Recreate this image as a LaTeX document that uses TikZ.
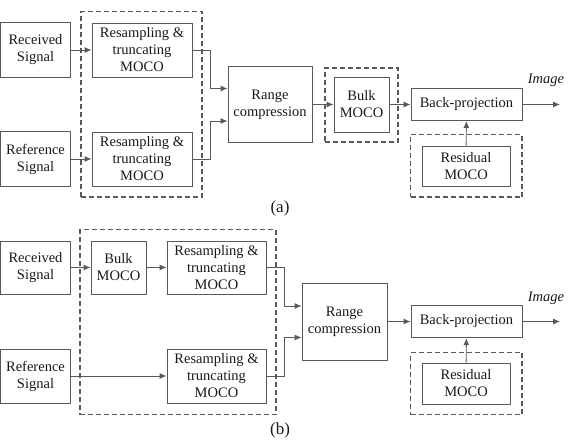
\documentclass[tikz,border=0pt]{standalone}
\usepackage{fontspec}
\setmainfont{Liberation Serif}
\usetikzlibrary{arrows.meta,calc,positioning}
\definecolor{linegray}{gray}{0.35}

\begin{document}
\begin{tikzpicture}[x=1pt,y=-1pt,>={Latex[length=7pt,width=6pt]},
  font=\fontsize{14.5}{17}\selectfont,
  blk/.style={draw=linegray,line width=.9pt,text=black!90,align=center,
    inner sep=0pt},
  grp/.style={draw=linegray,line width=1.4pt,dash pattern=on 5pt off 3pt,
    inner sep=0pt},
  wire/.style={draw=linegray,line width=.9pt,->}]
 \useasboundingbox (0,0) rectangle (568,442);
 % (a)
 \node[grp,minimum width=121,minimum height=185.5] (grpA) at (141.5,104.25) {};
 \node[grp,minimum width=73,minimum height=74] (grpbulkA) at (361.5,105) {};
 \node[grp,minimum width=111.5,minimum height=62.5] (grpresA) at (466.25,165.75) {};
 \node[blk,minimum width=70,minimum height=55] (recA) at (35.5,50) {Received\\Signal};
 \node[blk,minimum width=70,minimum height=55] (refA) at (35.5,159) {Reference\\Signal};
 \node[blk,minimum width=100,minimum height=54] (rs1A) at (142,50)
   {Resampling \&\\truncating\\MOCO};
 \node[blk,minimum width=100,minimum height=54] (rs2A) at (142,159)
   {Resampling \&\\truncating\\MOCO};
 \node[blk,minimum width=84,minimum height=76] (rcA) at (270,104.5)
   {Range\\compression};
 \node[blk,minimum width=55,minimum height=55] (bulkA) at (361.5,104.5)
   {Bulk\\MOCO};
 \node[blk,minimum width=111,minimum height=32] (bpA) at (466.5,104.5)
   {Back-projection};
 \node[blk,minimum width=88,minimum height=40] (resA) at (466,166)
   {Residual\\MOCO};
 \coordinate (outA) at (560,104.5);
 \node[text=black!90,font=\fontsize{14.5}{17}\selectfont\itshape] (imgA) at (546,80) {Image};
 \node[text=black!90,font=\fontsize{17}{20}\selectfont] (capA) at (280,208) {(a)};
 \draw[wire] (recA) -- (rs1A);
 \draw[wire] (refA) -- (rs2A);
 \draw[wire] (rs1A.east) -- ++(18,0) |- ($(rcA.west)+(0,-16)$);
 \draw[wire] (rs2A.east) -- ++(18,0) |- ($(rcA.west)+(0,16.5)$);
 \draw[wire] (rcA) -- (bulkA);
 \draw[wire] (bulkA) -- (bpA);
 \draw[wire] (bpA) -- (outA);
 \draw[wire] (resA) -- (bpA);
 % (b)
 \node[grp,minimum width=196,minimum height=185] (grpB) at (178,322) {};
 \node[grp,minimum width=111.5,minimum height=62] (grpresB) at (466.25,383.5) {};
 \node[blk,minimum width=70,minimum height=53] (recB) at (35.5,267.5) {Received\\Signal};
 \node[blk,minimum width=70,minimum height=54] (refB) at (35.5,376) {Reference\\Signal};
 \node[blk,minimum width=55,minimum height=53] (bulkB) at (118.5,267.5)
   {Bulk\\MOCO};
 \node[blk,minimum width=99,minimum height=53] (rs1B) at (216.5,267.5)
   {Resampling \&\\truncating\\MOCO};
 \node[blk,minimum width=99,minimum height=54] (rs2B) at (216.5,376)
   {Resampling \&\\truncating\\MOCO};
 \node[blk,minimum width=85,minimum height=77] (rcB) at (344.5,321.5)
   {Range\\compression};
 \node[blk,minimum width=111,minimum height=32.5] (bpB) at (466.5,321.5)
   {Back-projection};
 \node[blk,minimum width=88,minimum height=41] (resB) at (466,383.5)
   {Residual\\MOCO};
 \coordinate (outB) at (560,321.5);
 \node[text=black!90,font=\fontsize{14.5}{17}\selectfont\itshape] (imgB) at (546,298) {Image};
 \node[text=black!90,font=\fontsize{17}{20}\selectfont] (capB) at (280,430) {(b)};
 \draw[wire] (recB) -- (bulkB);
 \draw[wire] (bulkB) -- (rs1B);
 \draw[wire] (refB) -- (rs2B);
 \draw[wire] (rs1B.east) -- ++(18,0) |- ($(rcB.west)+(0,-15.5)$);
 \draw[wire] (rs2B.east) -- ++(18,0) |- ($(rcB.west)+(0,16)$);
 \draw[wire] (rcB) -- (bpB);
 \draw[wire] (bpB) -- (outB);
 \draw[wire] (resB) -- (bpB);
\end{tikzpicture}
\end{document}
